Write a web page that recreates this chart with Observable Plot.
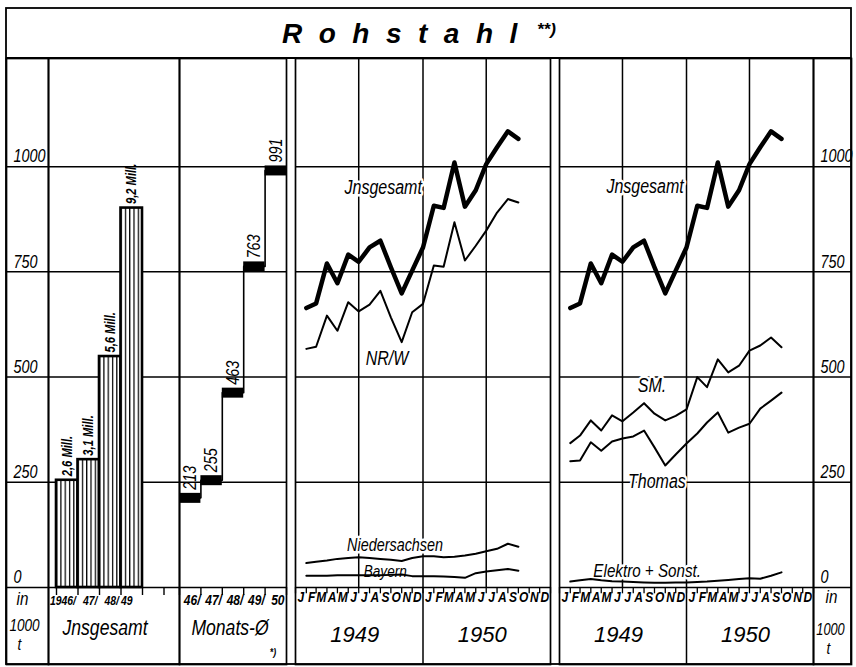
<!DOCTYPE html>
<html><head><meta charset="utf-8">
<script src="https://cdn.jsdelivr.net/npm/d3@7"></script>
<script src="https://cdn.jsdelivr.net/npm/@observablehq/plot@0.6"></script>
<style>
body{margin:0;background:#fff}
#chart{position:relative;width:856px;height:667px;overflow:hidden;background:#fff}
#chart svg{position:absolute;left:0;top:0}
</style></head><body><div id="chart"></div>
<script>
// ---------- data (thousand t per month unless noted) ----------
const monthLetters = ["J","F","M","A","M","J","J","A","S","O","N","D"];
const lineYears = [1949, 1950];
// Jan 1949 .. Sep 1950
const insgesamt = [664,675,770,723,791,774,808,824,761,699,753,808, 907,902,1010,905,944,1006,1046,1084,1066];
const nrw = [567,572,646,610,678,656,672,705,642,583,654,674, 765,762,868,777,812,848,891,923,915];
const niedersachsen = [58,61,64,68,70,72,70,68,66,63,70,74, 74,72,73,76,80,86,92,104,97];
const bayern = [28,28,28,29,29,29,29,29,30,31,27,27, 27,26,25,23,34,38,41,44,40];
const sm = [343,361,397,373,409,395,416,438,413,397,408,423, 500,476,542,511,527,563,575,594,571];
const thomas = [300,302,345,325,347,354,359,373,333,290,316,342, 366,392,416,368,380,389,425,444,463];
const elektro = [14,17,20,17,15,14,13,12,11,11,12,12, 13,14,16,18,20,22,21,28,36];
// annual totals (Mill. t)
const annualYears = [1946, 1947, 1948, 1949];
const annualMill = [2.6, 3.1, 5.6, 9.2];
const annualLabels = ["2,6 Mill.", "3,1 Mill.", "5,6 Mill.", "9,2 Mill."];
const annualTickLabels = ["1946", "47", "48", "49"];
// monthly averages
const avgYears = [1946, 1947, 1948, 1949, 1950];
const avgValues = [213, 255, 463, 763, 991];
const avgTickLabels = ["46", "47", "48", "49", "50"];
const yTicks = [0, 250, 500, 750, 1000];

// ---------- layout ----------
const W = 856, H = 667, TOP = 58, ZERO = 587, BOTTOM = 664;
const FONT = '"Liberation Sans","DejaVu Sans",sans-serif';
const yMax = 1257;
const MILL = 98; // bar scale: grid units per Mill. t (as drawn)
const lw = 1.5;
const SQUEEZE = 0.8; // condensed lettering

const chart = document.getElementById("chart");

// base layer: outer frame + title
const base = d3.create("svg").attr("width", W).attr("height", H);
base.append("rect").attr("x", 6).attr("y", 8).attr("width", 845).attr("height", 656)
  .attr("fill", "white").attr("stroke", "black").attr("stroke-width", 1.8);
base.append("line").attr("x1", 6).attr("x2", 851).attr("y1", TOP).attr("y2", TOP)
  .attr("stroke", "black").attr("stroke-width", 1.8);
base.append("text").attr("x", 282).attr("y", 43).attr("font-family", FONT)
  .attr("font-size", 28).attr("font-style", "italic").attr("font-weight", "bold")
  .attr("letter-spacing", 16.5).text("Rohstahl");
base.append("text").attr("x", 537).attr("y", 35).attr("font-family", FONT)
  .attr("font-size", 17).attr("font-style", "italic").attr("font-weight", "bold").text("**)");
chart.appendChild(base.node());

function condense(svg) {
  d3.select(svg).selectAll("text").each(function () {
    if (/^19[45]\d$/.test(this.textContent)) return; // year captions stay wide
    const t = this.getAttribute("transform") || "";
    this.setAttribute("transform", `${t} scale(${SQUEEZE},1)`);
  });
}

function panel(left, right, x, marks) {
  const p = Plot.plot({
    width: W, height: H,
    marginLeft: left, marginRight: W - right, marginTop: TOP, marginBottom: H - BOTTOM,
    x: x ? {...x, axis: null} : undefined,
    y: {domain: [0, yMax], range: [ZERO, TOP], axis: null},
    style: {background: "transparent", fontFamily: FONT, overflow: "visible"},
    marks
  });
  condense(p);
  chart.appendChild(p);
  return p;
}
const grid = () => Plot.ruleY(yTicks, {y: d => d, stroke: "black", strokeWidth: lw});
const frame = () => Plot.frame({stroke: "black", strokeWidth: 1.7});
const lbl = {fontStyle: "italic", fill: "black"};

// ---- left axis column ----
panel(6, 48, null, [
  frame(), grid(),
  Plot.text(yTicks, {y: d => d, text: d => String(d), frameAnchor: "left", textAnchor: "start",
    dx: 7, dy: -10, fontSize: 18, ...lbl}),
  Plot.text(["in"], {text: d => d, frameAnchor: "bottom", dx: -5, dy: -60, fontSize: 19, ...lbl}),
  Plot.text(["1000"], {text: d => d, frameAnchor: "bottom", dx: -3, dy: -34, fontSize: 17, ...lbl}),
  Plot.text(["t"], {text: d => d, frameAnchor: "bottom", dx: -8, dy: -15, fontSize: 17, ...lbl})
]);

// ---- annual bars ----
const bars = annualYears.map((y, i) => ({year: y, mill: annualMill[i], label: annualLabels[i], tick: annualTickLabels[i]}));
const barEdges = d3.range(1945.5, 1951, 1);
const pb = panel(48, 179, {type: "linear", domain: [1945.5, 1950.5], range: [56, 163.5]}, [
  frame(), grid(),
  Plot.rectY(bars, {x1: d => d.year - 0.5, x2: d => d.year + 0.5, y1: 0, y2: d => d.mill * MILL,
    fill: "url(#hatch)", stroke: "black", strokeWidth: 2.6}),
  Plot.ruleX(barEdges, {x: d => d, y1: 0, y2: -19, stroke: "black", strokeWidth: 1.4}),
  Plot.text(bars, {x: "year", y: d => d.mill * MILL, text: "label", rotate: -90, textAnchor: "start",
    dy: -4, fontSize: 14, fontWeight: "bold", ...lbl}),
  Plot.text(bars.slice(0, -1), {x: d => d.year + 0.5, text: d => d.tick + "/", frameAnchor: "bottom",
    textAnchor: "end", dx: -2, dy: -60, fontSize: 13, fontWeight: "bold", ...lbl}),
  Plot.text(bars.slice(-1), {x: d => d.year - 0.5, text: "tick", frameAnchor: "bottom",
    textAnchor: "start", dx: 0, dy: -60, fontSize: 13, fontWeight: "bold", ...lbl}),
  Plot.text(["Jnsgesamt"], {text: d => d, frameAnchor: "bottom", dx: -9, dy: -30, fontSize: 22, ...lbl})
]);
// hatch pattern for bars
const defs = d3.select(pb).insert("defs", ":first-child");
const pat = defs.append("pattern").attr("id", "hatch").attr("patternUnits", "userSpaceOnUse")
  .attr("x", 56).attr("y", 0).attr("width", 4.3).attr("height", 10);
pat.append("rect").attr("width", 4.3).attr("height", 10).attr("fill", "white");
pat.append("line").attr("x1", 0.6).attr("x2", 0.6).attr("y1", 0).attr("y2", 10)
  .attr("stroke", "black").attr("stroke-width", 1.3);

// ---- monthly averages (Monats-Ø) ----
const avg = avgYears.map((y, i) => ({year: y, value: avgValues[i], tick: avgTickLabels[i]}));
panel(179, 286, {type: "linear", domain: [1945.5, 1950.5]}, [
  frame(), grid(),
  Plot.ruleX(barEdges, {x: d => d, y1: 0, y2: -19, stroke: "black", strokeWidth: 1.4}),
  Plot.line(avg, {x: "year", y: "value", curve: "step", stroke: "black", strokeWidth: 1.6}),
  Plot.ruleY(avg, {y: "value", x1: d => d.year - 0.5, x2: d => d.year + 0.5, stroke: "black",
    strokeWidth: 10, strokeLinecap: "butt"}),
  Plot.text(avg, {x: "year", y: "value", text: d => String(d.value), rotate: -90, textAnchor: "start",
    dy: -8, fontSize: 18, ...lbl}),
  Plot.text(avg, {x: "year", text: (d, i) => d.tick + (i < avg.length - 1 ? "/" : ""), frameAnchor: "bottom",
    dx: 2, dy: -60, fontSize: 15, fontWeight: "bold", ...lbl}),
  Plot.text(["Monats-Ø"], {text: d => d, frameAnchor: "bottom", dx: -3, dy: -30, fontSize: 22, ...lbl}),
  Plot.text(["*)"], {text: d => d, frameAnchor: "bottom", dx: 40, dy: -9, fontSize: 11, fontWeight: "bold", ...lbl})
]);

// ---- monthly line panels ----
const D = (y, m, d = 1) => new Date(Date.UTC(y, m, d));
const rows = vals => vals.map((v, i) => ({date: D(1949, i + 1), value: v}));
const monthStarts = d3.range(0, 25).map(i => D(1949, i));
const monthMids = d3.range(0, 24).map(i => ({date: D(1949, i, 16), letter: monthLetters[i % 12]}));
const halfYears = [D(1949, 6), D(1950, 6)];
const yearSplits = [D(1950, 0)];
const yearMids = lineYears.map(y => ({date: D(y, 6), label: String(y)}));
const xTime = {type: "utc", domain: [D(1949, 0), D(1951, 0)]};

function timeMarks() {
  return [
    frame(), grid(),
    Plot.ruleX(halfYears, {x: d => d, y1: 0, y2: yMax, stroke: "black", strokeWidth: lw}),
    Plot.ruleX(yearSplits, {x: d => d, stroke: "black", strokeWidth: lw}),
    Plot.ruleX(monthStarts, {x: d => d, y1: 0, y2: -15, stroke: "black", strokeWidth: 1.3}),
    Plot.text(monthMids, {x: "date", text: "letter", frameAnchor: "bottom", dy: -63, fontSize: 15,
      fontWeight: "bold", ...lbl}),
    Plot.text(yearMids, {x: "date", text: "label", frameAnchor: "bottom", dx: -4, dy: -23, fontSize: 22, ...lbl})
  ];
}
const halo = {stroke: "white", strokeWidth: 5, paintOrder: "stroke"};
const note = (date, value, text, size = 16) =>
  Plot.text([{date, value, text}], {x: "date", y: "value", text: "text", fontSize: size, ...halo, ...lbl});

panel(295, 550, xTime, [
  ...timeMarks(),
  note(D(1949, 8, 9), 950, "Jnsgesamt", 20),
  note(D(1949, 8, 20), 544, "NR/W", 20),
  note(D(1949, 9, 13), 101, "Niedersachsen", 18),
  note(D(1949, 8, 15), 38, "Bayern", 17),
  Plot.line(rows(niedersachsen), {x: "date", y: "value", stroke: "black", strokeWidth: 2}),
  Plot.line(rows(bayern), {x: "date", y: "value", stroke: "black", strokeWidth: 2}),
  Plot.line(rows(nrw), {x: "date", y: "value", stroke: "black", strokeWidth: 2}),
  Plot.line(rows(insgesamt), {x: "date", y: "value", stroke: "black", strokeWidth: 4.5})
]);

panel(559, 813, xTime, [
  ...timeMarks(),
  note(D(1949, 8, 4), 953, "Jnsgesamt", 20),
  note(D(1949, 8, 24), 480, "SM.", 20),
  note(D(1949, 9, 8), 252, "Thomas", 20),
  note(D(1949, 8, 10), 40, "Elektro + Sonst.", 19),
  Plot.line(rows(elektro), {x: "date", y: "value", stroke: "black", strokeWidth: 2}),
  Plot.line(rows(thomas), {x: "date", y: "value", stroke: "black", strokeWidth: 2}),
  Plot.line(rows(sm), {x: "date", y: "value", stroke: "black", strokeWidth: 2}),
  Plot.line(rows(insgesamt), {x: "date", y: "value", stroke: "black", strokeWidth: 4.5})
]);

// ---- right axis column ----
panel(813, 851, null, [
  frame(), grid(),
  Plot.text(yTicks, {y: d => d, text: d => String(d), frameAnchor: "left", textAnchor: "start",
    dx: 7, dy: -10, fontSize: 18, ...lbl}),
  Plot.text(["in"], {text: d => d, frameAnchor: "bottom", dx: -1, dy: -62, fontSize: 19, ...lbl}),
  Plot.text(["1000"], {text: d => d, frameAnchor: "bottom", dx: -2, dy: -30, fontSize: 16, ...lbl}),
  Plot.text(["t"], {text: d => d, frameAnchor: "bottom", dx: -4, dy: -11, fontSize: 17, ...lbl})
]);
</script></body></html>
